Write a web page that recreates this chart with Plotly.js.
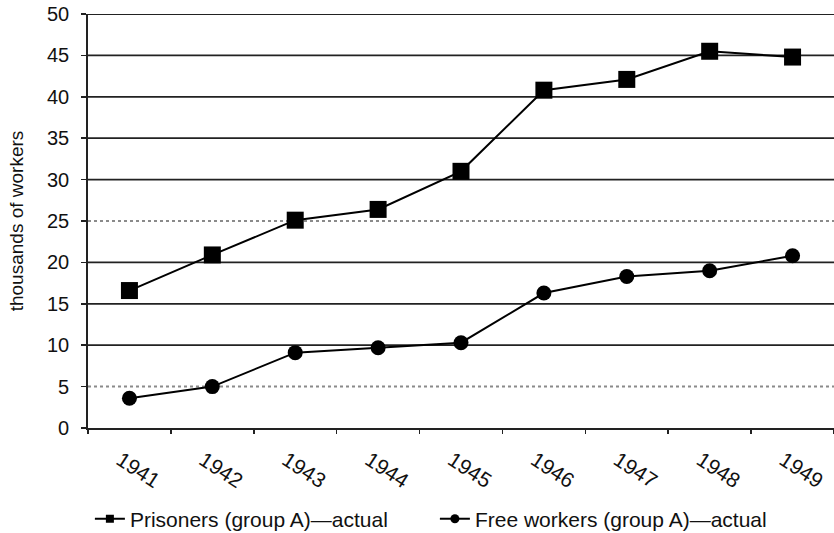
<!DOCTYPE html>
<html>
<head>
<meta charset="utf-8">
<script src="https://cdn.plot.ly/plotly-3.0.1.min.js"></script>
<style>html,body{margin:0;padding:0;background:#fff;}#chart{width:834px;height:533px;}</style>
</head>
<body>
<div id="chart"></div>
<script>
const years = ['1941','1942','1943','1944','1945','1946','1947','1948','1949'];
const prisoners = [16.6, 20.9, 25.1, 26.4, 31.0, 40.8, 42.1, 45.5, 44.8];
const freeWorkers = [3.6, 5.0, 9.1, 9.7, 10.3, 16.3, 18.3, 19.0, 20.8];
const seriesNames = ['Prisoners (group A)—actual', 'Free workers (group A)—actual'];
const gridValues = [5, 10, 15, 20, 25, 30, 35, 40, 45, 50];
const lightGrid = [5, 25];

const FONT = 'Liberation Sans, Arial, Helvetica, sans-serif';

const traces = [
  {x: years, y: prisoners, type: 'scatter', mode: 'lines+markers', showlegend: false,
   line: {color: '#000', width: 2}, marker: {symbol: 'square', size: 17, color: '#000'}},
  {x: years, y: freeWorkers, type: 'scatter', mode: 'lines+markers', showlegend: false,
   line: {color: '#000', width: 2}, marker: {symbol: 'circle', size: 15, color: '#000'}},
  {x: [null], y: [null], type: 'scatter', mode: 'lines+markers', name: seriesNames[0],
   line: {color: '#000', width: 2}, marker: {symbol: 'square', size: 8, color: '#000'}},
  {x: [null], y: [null], type: 'scatter', mode: 'lines+markers', name: seriesNames[1],
   line: {color: '#000', width: 2}, marker: {symbol: 'circle', size: 9, color: '#000'}}
];

const shapes = gridValues.map(v => {
  const light = lightGrid.includes(v);
  return {type: 'line', xref: 'paper', yref: 'y', x0: 0, x1: 1, y0: v, y1: v, layer: 'below',
    line: light ? {color: '#8a8a8a', width: 2, dash: 'dot'} : {color: '#222', width: 1.8}};
});

const layout = {
  width: 834, height: 533,
  margin: {l: 88, r: 0, t: 14, b: 105, autoexpand: false},
  paper_bgcolor: '#fff', plot_bgcolor: '#fff',
  font: {family: FONT, color: '#111', size: 20},
  showlegend: true,
  legend: {orientation: 'h', x: 0.465, xanchor: 'center', y: -0.22, yanchor: 'middle',
    font: {family: FONT, size: 21, color: '#111'}, itemwidth: 30, tracegroupgap: 0,
    entrywidth: 300},
  xaxis: {
    type: 'category', range: [-0.5, 8.5], showgrid: false, zeroline: false, automargin: false,
    showline: true, linecolor: '#222', linewidth: 1.8,
    ticks: 'outside', tickson: 'boundaries', ticklen: 4, tickcolor: '#222', tickwidth: 1.5,
    tickangle: 33, ticklabelstandoff: 10, ticklabelshift: -9,
    tickfont: {family: FONT, size: 21, color: '#111'}
  },
  yaxis: {
    range: [0, 50], tickvals: [0, 5, 10, 15, 20, 25, 30, 35, 40, 45, 50], automargin: false,
    showgrid: false, zeroline: false, showline: true, linecolor: '#222', linewidth: 1.8,
    ticks: 'outside', ticklen: 5, tickcolor: '#222', tickwidth: 1.5, ticklabelstandoff: 8,
    tickfont: {family: FONT, size: 20, color: '#111'},
    title: {text: 'thousands of workers', font: {family: FONT, size: 19, color: '#111'}, standoff: 18}
  },
  shapes: shapes
};

Plotly.newPlot('chart', traces, layout, {displayModeBar: false, staticPlot: true});
</script>
</body>
</html>
